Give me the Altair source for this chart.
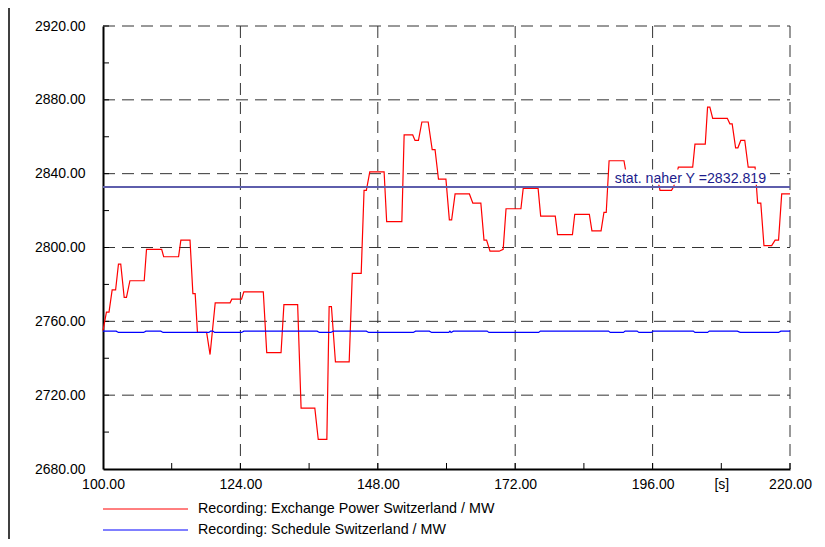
import altair as alt
import pandas as pd

# ---------------- data ----------------
red_t = [100.0, 100.6, 101.05, 101.6, 102.2, 102.7, 103.1, 103.7, 104.1, 104.7,
         107.2, 107.6, 110.25, 110.6, 113.2, 113.6, 115.2, 115.7, 116.1, 116.5,
         118.1, 118.7, 119.6, 122.2, 122.5, 124.2, 124.6, 128.0, 128.6, 131.1,
         131.6, 134.0, 134.6, 137.0, 137.6, 139.1, 139.5, 139.9, 140.6, 143.0,
         143.55, 145.1, 145.6, 146.0, 146.6, 149.1, 149.55, 152.2, 152.6, 154.1,
         154.5, 155.1, 155.7, 156.8, 157.5, 158.0, 158.6, 159.9, 160.5, 160.9,
         161.5, 164.0, 164.6, 166.0, 166.55, 167.0, 167.6, 169.2, 169.9, 170.4,
         173.0, 173.4, 176.0, 176.45, 179.0, 179.4, 182.0, 182.4, 184.95, 185.4,
         187.0, 187.5, 187.9, 188.4, 191.0, 191.5, 196.8, 197.3, 199.3, 199.7,
         200.5, 203.0, 203.4, 205.2, 205.6, 206.0, 206.5, 209.05, 209.5, 209.9,
         210.5, 210.9, 211.4, 212.1, 212.7, 213.9, 214.35, 214.9, 215.45, 216.8,
         217.4, 218.0, 218.55, 220.0]
red_v = [2755, 2765, 2765, 2777, 2777, 2791, 2791, 2773, 2773, 2782,
         2782, 2799, 2799, 2795, 2795, 2804, 2804, 2775, 2775, 2754,
         2754, 2742, 2770, 2770, 2772, 2772, 2776, 2776, 2743, 2743,
         2769, 2769, 2713, 2713, 2696, 2696, 2768, 2768, 2738, 2738,
         2786, 2786, 2831, 2831, 2841, 2841, 2814, 2814, 2861, 2861,
         2858, 2858, 2868, 2868, 2853, 2853, 2837, 2837, 2815, 2815,
         2829, 2829, 2824, 2824, 2804, 2804, 2798, 2798, 2799, 2821,
         2821, 2832, 2832, 2817, 2817, 2807, 2807, 2818, 2818, 2809,
         2809, 2819, 2819, 2847, 2847, 2838, 2838, 2831, 2831, 2833,
         2843.5, 2843.5, 2856, 2856, 2876, 2876, 2870, 2870, 2867, 2867,
         2854, 2854, 2858, 2858, 2843.5, 2843.5, 2824, 2824, 2801, 2801,
         2804, 2804, 2829, 2829]

blue_t = [100.0, 102.3, 102.7, 107.1, 107.5, 110.1, 110.5, 118.5, 118.8, 119.2,
          119.5, 124.2, 124.6, 137.4, 137.8, 139.8, 140.2, 146.0, 146.4, 154.2,
          154.6, 157.0, 157.4, 160.4, 160.6, 160.8, 161.2, 167.1, 167.4, 176.1,
          176.4, 188.3, 188.6, 190.9, 191.2, 193.3, 193.6, 195.8, 196.1, 203.1,
          203.4, 205.6, 205.9, 210.8, 211.3, 218.0, 218.4, 220.0]
blue_v = [2754.7, 2754.7, 2754.0, 2754.0, 2754.7, 2754.7, 2754.0, 2754.0, 2754.7, 2754.7,
          2754.0, 2754.0, 2754.7, 2754.7, 2754.0, 2754.0, 2754.7, 2754.7, 2754.0, 2754.0,
          2754.7, 2754.7, 2754.0, 2754.0, 2754.7, 2754.0, 2754.7, 2754.7, 2754.0, 2754.0,
          2754.7, 2754.7, 2754.0, 2754.0, 2754.7, 2754.7, 2754.0, 2754.0, 2754.7, 2754.7,
          2754.0, 2754.0, 2754.7, 2754.7, 2754.0, 2754.0, 2754.7, 2754.7]

mean_value = [2832.819]
mean_label = ["stat. naher Y =2832.819"]

series_names = ["Recording: Exchange Power Switzerland / MW",
                "Recording: Schedule Switzerland / MW"]
series_colors = ["#ff0000", "#0000ff"]

x_grid = [124, 148, 172, 196, 220]
y_grid = [2720, 2760, 2800, 2840, 2880, 2920]
x_ticks = [112, 124, 136, 148, 160, 172, 184, 196, 208, 220]
y_ticks = [2700, 2720, 2740, 2760, 2780, 2800, 2820, 2840, 2860, 2880, 2900, 2920]
x_labels = [100, 124, 148, 172, 196, 208, 220]
y_labels = [2680, 2720, 2760, 2800, 2840, 2880, 2920]

# ---------------- chart ----------------
W, H = 687, 443
FONT = "Liberation Sans"

x_scale = alt.Scale(domain=[100, 220], nice=False, zero=False)
y_scale = alt.Scale(domain=[2680, 2920], nice=False, zero=False)

x_axis = alt.Axis(values=x_labels,
                  labelExpr="datum.value == 208 ? '[s]' : format(datum.value, '.2f')",
                  grid=False, ticks=False, domainColor="black", domainWidth=2,
                  labelFont=FONT, labelFontSize=14, labelColor="black",
                  labelPadding=8, labelFlush=False, labelOverlap=False, title=None)
y_axis = alt.Axis(values=y_labels, format=".2f",
                  grid=False, ticks=False, domainColor="black", domainWidth=2,
                  labelFont=FONT, labelFontSize=14, labelColor="black",
                  labelPadding=18, labelFlush=False, labelOverlap=False, title=None)


def X(field):
    return alt.X(field, type="quantitative", scale=x_scale, axis=x_axis, title=None)


def Y(field):
    return alt.Y(field, type="quantitative", scale=y_scale, axis=y_axis, title=None)


red_df = pd.DataFrame({"t": red_t, "v": red_v})
blue_df = pd.DataFrame({"t": blue_t, "v": blue_v})
mean_df = pd.DataFrame({"v": mean_value, "label": mean_label})
xg_df = pd.DataFrame({"t": x_grid})
yg_df = pd.DataFrame({"v": y_grid})
xt_df = pd.DataFrame({"t": x_ticks})
yt_df = pd.DataFrame({"v": y_ticks})

grid_style = dict(color="#333333", strokeWidth=1, strokeDash=[12, 7])

grid_h = alt.Chart(yg_df).mark_rule(**grid_style).encode(
    y=Y("v"), x=alt.value(0), x2=alt.value(W))
grid_v = alt.Chart(xg_df).mark_rule(**grid_style).encode(
    x=X("t"), y=alt.value(0), y2=alt.value(H))

ytick = alt.Chart(yt_df).mark_rule(color="black", strokeWidth=1).encode(
    y=Y("v"), x=alt.value(0), x2=alt.value(6))
xtick = alt.Chart(xt_df).mark_rule(color="black", strokeWidth=1).encode(
    x=X("t"), y=alt.value(H), y2=alt.value(H - 6))

red_line = alt.Chart(red_df).mark_line(color=series_colors[0], strokeWidth=1.2).encode(
    x=X("t"), y=Y("v"))
blue_line = alt.Chart(blue_df).mark_line(color=series_colors[1], strokeWidth=1.2).encode(
    x=X("t"), y=Y("v"))

label_box = alt.Chart(mean_df).mark_rect(color="white").encode(
    x=alt.datum(189.1), x2=alt.datum(216.5),
    y=alt.datum(2834.0), y2=alt.datum(2842.2))

mean_rule = alt.Chart(mean_df).mark_rule(color="#5e5eac", strokeWidth=2).encode(
    y=Y("v"), x=alt.value(0), x2=alt.value(W))

mean_text = alt.Chart(mean_df).mark_text(
    align="left", baseline="alphabetic", dy=-4, font=FONT, fontSize=14.2,
    color="#1c1c8c").encode(
    x=alt.datum(189.4), y=Y("v"), text="label:N")

frame = alt.Chart(mean_df).mark_rule(color="black", strokeWidth=1.5).encode(
    x=alt.value(-94), y=alt.value(-18), y2=alt.value(H + 88))

main = alt.layer(grid_h, grid_v, ytick, xtick, red_line, blue_line,
                 label_box, mean_rule, mean_text, frame)

legend_df = pd.DataFrame({"name": series_names, "color": series_colors})
ly = alt.Y("name:N", sort=series_names,
           scale=alt.Scale(type="point", range=[H + 40, H + 61], padding=0),
           axis=None)
leg_rule = alt.Chart(legend_df).mark_rule(strokeWidth=1).encode(
    x=alt.value(0), x2=alt.value(85), y=ly,
    color=alt.Color("color:N", scale=None, legend=None))
leg_text = alt.Chart(legend_df).mark_text(
    align="left", baseline="middle", font=FONT, fontSize=14.3, color="black").encode(
    x=alt.value(95), y=ly, text="name:N")
legend = alt.layer(leg_rule, leg_text)

chart = alt.layer(main, legend).resolve_scale(y="independent", color="independent").properties(
    width=W, height=H,
    padding={"left": 95, "top": 18, "right": 27, "bottom": 70},
    autosize=alt.AutoSizeParams(type="none"),
    background="white",
).configure_view(stroke=None)

chart.save("out.html", embed_options={"renderer": "svg", "actions": False})
